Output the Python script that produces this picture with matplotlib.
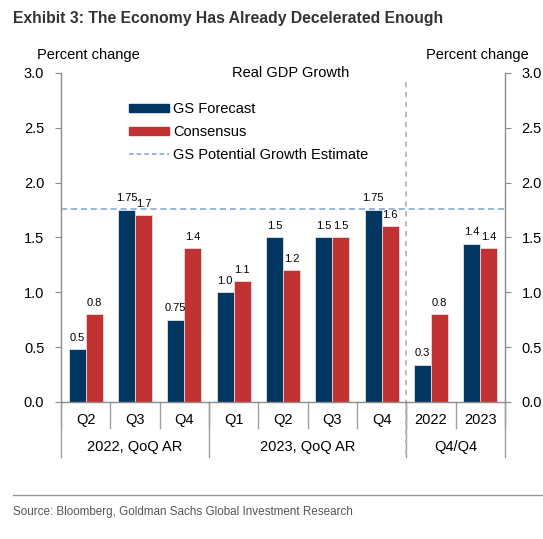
import matplotlib
matplotlib.use('Agg')
import matplotlib.pyplot as plt
from matplotlib.lines import Line2D
from matplotlib.patches import Patch
import numpy as np

plt.rcParams['font.family'] = ['Liberation Sans', 'DejaVu Sans']

# data
quarters = ['Q2', 'Q3', 'Q4', 'Q1', 'Q2', 'Q3', 'Q4', '2022', '2023']
groups = ['2022, QoQ AR', '2023, QoQ AR', 'Q4/Q4']
group_sizes = [3, 4, 2]
gs_forecast = [0.48, 1.75, 0.75, 1.0, 1.5, 1.5, 1.75, 0.34, 1.44]
consensus = [0.8, 1.7, 1.4, 1.1, 1.2, 1.5, 1.6, 0.8, 1.4]
gs_labels = ['0.5', '1.75', '0.75', '1.0', '1.5', '1.5', '1.75', '0.3', '1.4']
cons_labels = ['0.8', '1.7', '1.4', '1.1', '1.2', '1.5', '1.6', '0.8', '1.4']
potential = 1.76

navy = '#003660'
red = '#C13333'
blue_dash = '#7BA3D4'
grey = '#8C8C8C'

fig = plt.figure(figsize=(5.43, 5.39), dpi=100)
ax = fig.add_axes([0.1123, 0.2542, 0.8177, 0.6108])

x = np.arange(len(quarters))
w = 0.345
ax.bar(x - w/2, gs_forecast, w, color=navy, edgecolor='#dfe3ea', linewidth=0.6)
ax.bar(x + w/2, consensus, w, color=red, edgecolor='#f0d8d8', linewidth=0.6)

for i in range(len(x)):
    ax.text(x[i] - w/2, gs_forecast[i] + 0.06, gs_labels[i], ha='center', va='bottom', fontsize=8)
    ax.text(x[i] + w/2, consensus[i] + 0.06, cons_labels[i], ha='center', va='bottom', fontsize=8)

ax.axhline(potential, color=blue_dash, ls=(0, (4, 2.5)), lw=1.1)

ax.set_xlim(-0.5, len(quarters) - 0.5)
ax.set_ylim(0, 3.0)
ax.set_yticks(np.arange(0, 3.01, 0.5))
ax.set_yticklabels(['%.1f' % v for v in np.arange(0, 3.01, 0.5)], fontsize=10.5)
ax.tick_params(axis='y', direction='out', length=4, color=grey, labelright=True, right=True, pad=8)
ax.set_xticks([])
ax.spines['top'].set_visible(False)
for s in ['left', 'right', 'bottom']:
    ax.spines[s].set_color(grey)
    ax.spines[s].set_linewidth(1.0)

# two level category axis
trans = ax.get_xaxis_transform()
for i, q in enumerate(quarters):
    ax.text(x[i], -0.055, q, transform=trans, ha='center', va='center', fontsize=10.5)
bounds = np.cumsum([0] + group_sizes) - 0.5
for b in np.arange(-0.5, len(quarters)):
    ax.plot([b, b], [0, -0.08], transform=trans, color='#A0A0A0', lw=1.0, clip_on=False)
for b in bounds:
    ax.plot([b, b], [0, -0.167], transform=trans, color='#A0A0A0', lw=1.0, clip_on=False)
for j, g in enumerate(groups):
    mid = (bounds[j] + bounds[j + 1]) / 2
    ax.text(mid, -0.137, g, transform=trans, ha='center', va='center', fontsize=10.5)

# separator before Q4/Q4 block
ax.plot([6.5, 6.5], [0.972, -0.167], transform=trans, color='#B8B8B8', ls=(0, (3, 2.5)), lw=1.3, clip_on=False)

ax.text(0.518, 1.0, 'Real GDP Growth', transform=ax.transAxes, ha='center', va='center', fontsize=10.5)

handles = [Patch(color=navy), Patch(color=red),
           Line2D([0], [0], color=blue_dash, ls=(0, (3, 2)), lw=1.1)]
ax.legend(handles, ['GS Forecast', 'Consensus', 'GS Potential Growth Estimate'],
          loc='upper left', bbox_to_anchor=(0.137, 0.933), frameon=False, fontsize=10.5,
          borderpad=0, handlelength=2.75, handleheight=0.5, handletextpad=0.25, labelspacing=0.6)

fig.text(0.068, 0.898, 'Percent change', fontsize=10.5, ha='left', va='center')
fig.text(0.973, 0.898, 'Percent change', fontsize=10.5, ha='right', va='center')

fig.text(0.024, 0.966, 'Exhibit 3: The Economy Has Already Decelerated Enough',
         fontsize=11.3, fontweight='bold', color='#333333', ha='left', va='center')

fig.add_artist(Line2D([0.024, 1.0], [0.0816, 0.0816], color='#999999', lw=1.0))
fig.text(0.024, 0.050, 'Source: Bloomberg, Goldman Sachs Global Investment Research',
         fontsize=8.4, color='#555555', ha='left', va='center')

fig.savefig('out.png', dpi=100)
